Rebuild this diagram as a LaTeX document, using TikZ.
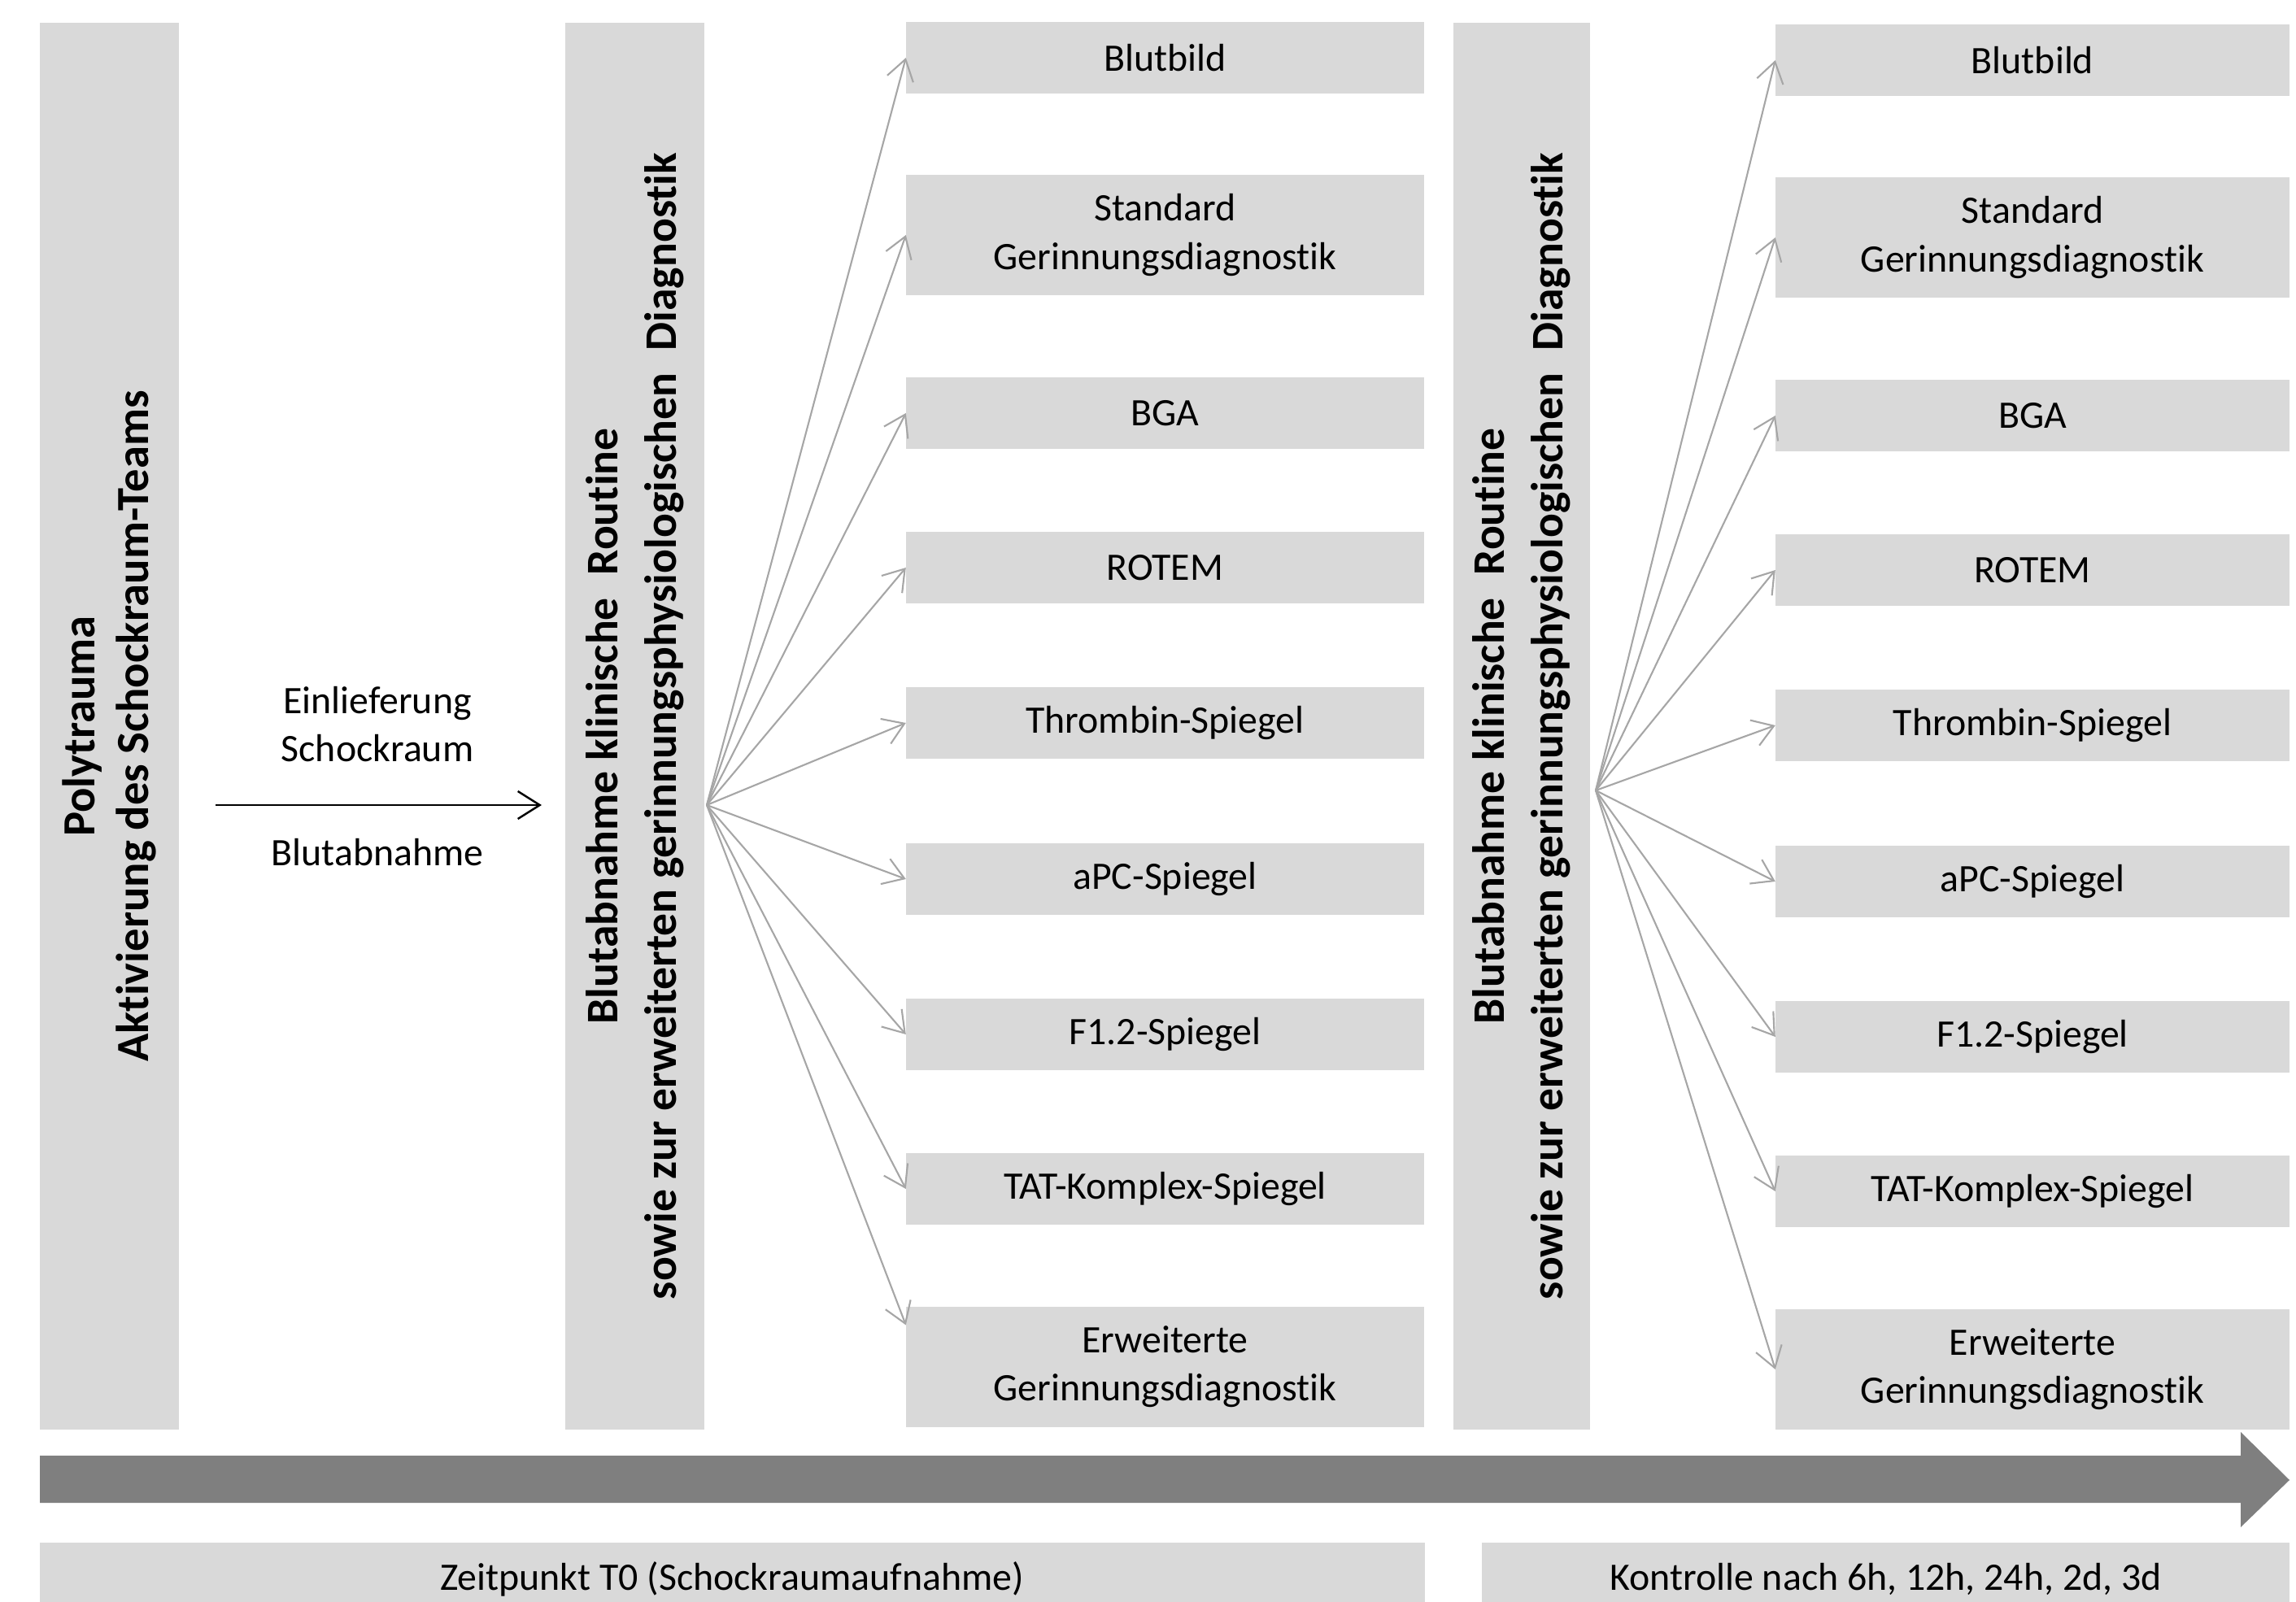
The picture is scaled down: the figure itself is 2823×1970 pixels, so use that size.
\documentclass[tikz,border=0pt]{standalone}
\usepackage{fontspec}
\setmainfont{Carlito}[Ligatures=NoCommon]
\usetikzlibrary{arrows.meta}

\definecolor{boxgray}{HTML}{D9D9D9}
\definecolor{timegray}{HTML}{7F7F7F}
\definecolor{fangray}{HTML}{A6A6A6}

\begin{document}
\begin{tikzpicture}[x=0.01cm, y=-0.01cm,
    box/.style={fill=boxgray, inner sep=0pt, outer sep=0pt, align=center,
      font=\fontsize{13.6}{16.8}\selectfont},
    bar/.style={fill=boxgray, inner sep=0pt, outer sep=0pt, align=center, rotate=90,
      minimum width=17.28cm, font=\fontsize{15.8}{20.5}\selectfont\bfseries},
    note/.style={inner sep=0pt, align=center, font=\fontsize{13.6}{16.8}\selectfont},
    fanarrow/.style={draw=fangray, line width=0.6pt, -{Straight Barb[length=2.5mm,width=3.3mm]}}]
  \clip (0,0) rectangle (2823,1970);

  % vertical bars
  \node[bar, minimum height=1.71cm, font=\fontsize{16.1}{18.8}\selectfont\bfseries] (trauma) at (134.5,893)
    {Polytrauma\\Aktivierung des Schockraum-Teams};
  \node[bar, minimum height=1.71cm] (probe1) at (780.5,893)
    {Blutabnahme klinische\hspace{.5em}Routine\\sowie zur erweiterten gerinnungsphysiologischen\hspace{.5em}Diagnostik};
  \node[bar, minimum height=1.68cm] (probe2) at (1871,893)
    {Blutabnahme klinische\hspace{.5em}Routine\\sowie zur erweiterten gerinnungsphysiologischen\hspace{.5em}Diagnostik};

  % admission arrow
  \coordinate (in1) at (265,990);
  \coordinate (in2) at (666,990);
  \draw[line width=0.7pt, -{Straight Barb[length=2.7mm,width=3.4mm]}] (in1) -- (in2);
  \node[note] (einl) at (464,891) {Einlieferung\\Schockraum};
  \node[note] (blutab) at (464,1048) {Blutabnahme};

  % lab tests, two columns
  \foreach \col/\xc/\bw/\dy in {a/1432.5/6.37/0, b/2499/6.32/3} {
    \foreach \id/\yc/\bh/\txt in {blut/71/.88/Blutbild,
        std/289/1.47/{Standard\\Gerinnungsdiagnostik},
        bga/508/.88/BGA, rotem/698/.88/ROTEM, thr/889/.88/Thrombin-Spiegel,
        apc/1081/.88/aPC-Spiegel, f12/1272/.88/F1.2-Spiegel,
        tat/1462/.88/TAT-Komplex-Spiegel,
        erw/1681/1.47/{Erweiterte\\Gerinnungsdiagnostik}} {
      \node[box, minimum width=\bw cm, minimum height=\bh cm] (\col\id) at (\xc,\yc+\dy) {\txt};
    }
  }

  \coordinate (fan1) at (869,990);
  \coordinate (fan2) at (1962,972);
  \foreach \id in {blut,std,bga,rotem,thr,apc,f12,tat} {
    \draw[fanarrow] (fan1) -- (a\id.west);
  }
  \draw[fanarrow] (fan1) -- ([yshift=-0.22cm]aerw.north west);
  \foreach \id in {blut,std,bga,rotem,thr,apc,f12,tat,erw} {
    \draw[fanarrow] (fan2) -- (b\id.west);
  }

  % time line
  \fill[timegray] (49,1790) -- (2755,1790) -- (2755,1761) -- (2815,1820)
    -- (2755,1878) -- (2755,1848) -- (49,1848) -- cycle;

  \node[box, minimum width=17.02cm, minimum height=0.9cm] (tnull) at (900,1942)
    {Zeitpunkt T0 (Schockraumaufnahme)};
  \node[box, minimum width=9.93cm, minimum height=0.9cm] (kontrolle) at (2318.5,1942)
    {Kontrolle nach 6h, 12h, 24h, 2d, 3d};
\end{tikzpicture}
\end{document}
